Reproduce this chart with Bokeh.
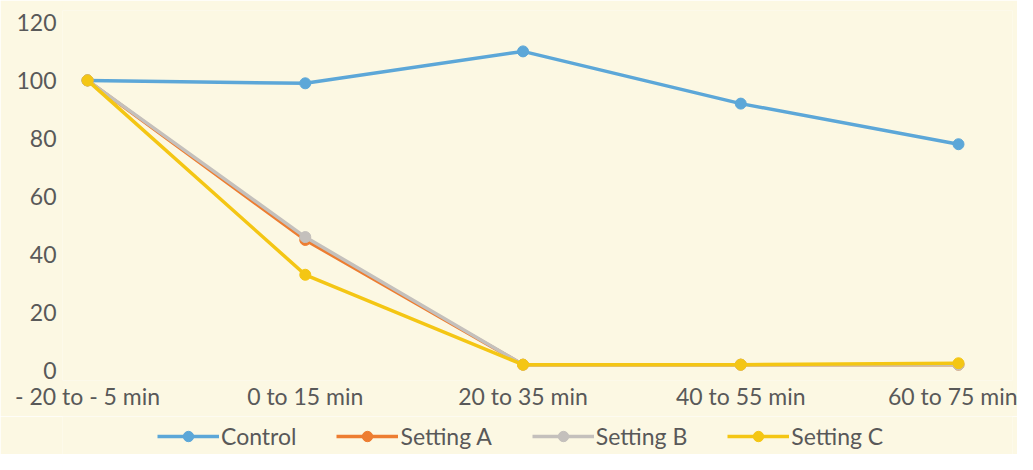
from bokeh.plotting import figure
from bokeh.models import Legend, LegendItem, FixedTicker
from bokeh.layouts import column
from bokeh.embed import file_html
from bokeh.resources import INLINE

categories = ["- 20 to - 5 min", "0 to 15 min", "20 to 35 min", "40 to 55 min", "60 to 75 min"]
control = [100, 99, 110, 92, 78]
setting_a = [100, 45, 2, 2, 2]
setting_b = [100, 46, 2, 2, 2]
setting_c = [100, 33, 2, 2, 2.5]
y_ticks = [0, 20, 40, 60, 80, 100, 120]

xs = list(range(len(categories)))
BG = "#FCF8E3"
FONT = "Lato"
TXT = "#595959"
FS = "23px"

p = figure(width=1017, height=416, output_backend="svg", toolbar_location=None,
           x_range=(-0.115, 4.248), y_range=(-3.45, 124.1),
           min_border_left=62, min_border_right=5, min_border_top=10, min_border_bottom=36)
p.background_fill_color = BG
p.border_fill_color = BG
p.outline_line_color = None
p.grid.visible = False

series = [("Control", control, "#5CA7D8"),
          ("Setting A", setting_a, "#ED7D31"),
          ("Setting B", setting_b, "#C4C0BC"),
          ("Setting C", setting_c, "#F4C614")]
for name, vals, col in series:
    p.line(xs, vals, line_color=col, line_width=3.5)
    p.scatter(xs, vals, size=11, fill_color=col, line_color=col)

p.xaxis.ticker = FixedTicker(ticks=xs)
p.xaxis.major_label_overrides = {i: c for i, c in enumerate(categories)}
p.yaxis.ticker = FixedTicker(ticks=y_ticks)
for ax in (p.xaxis, p.yaxis):
    ax.axis_line_color = None
    ax.major_tick_line_color = None
    ax.minor_tick_line_color = None
    ax.major_label_text_font = FONT
    ax.major_label_text_font_size = FS
    ax.major_label_text_color = TXT
p.xaxis.major_label_standoff = -5
p.yaxis.major_label_standoff = 0

# legend strip below the chart (its series are kept outside the visible range)
lg = figure(width=1017, height=38, output_backend="svg", toolbar_location=None,
            x_range=(100, 101), y_range=(1000, 1001),
            min_border_left=0, min_border_right=0, min_border_top=0, min_border_bottom=0)
lg.axis.visible = False
lg.grid.visible = False
lg.outline_line_color = None
lg.background_fill_color = BG
lg.border_fill_color = BG
items = []
for name, vals, col in series:
    l = lg.line(xs, vals, line_color=col, line_width=3.5)
    s = lg.scatter(xs, vals, size=11, fill_color=col, line_color=col)
    items.append(LegendItem(label=name, renderers=[l, s]))

legend = Legend(items=items, orientation="horizontal", location=(95, 4),
                glyph_width=62, glyph_height=26, label_text_font=FONT,
                label_text_font_size=FS, label_text_color=TXT,
                background_fill_alpha=0, border_line_color=None,
                spacing=40, padding=0, margin=0, label_standoff=2)
lg.add_layout(legend, "center")

layout = column(p, lg, spacing=0)
open("out.html", "w").write(file_html(layout, INLINE))
